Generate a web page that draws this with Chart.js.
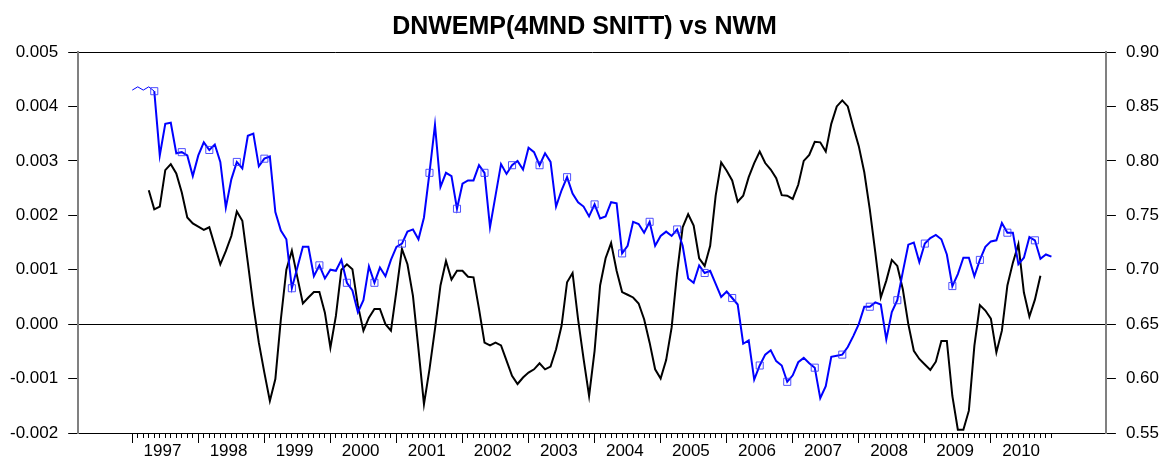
<!DOCTYPE html>
<html>
<head>
<meta charset="utf-8">
<script src="https://cdn.jsdelivr.net/npm/chart.js@4/dist/chart.umd.min.js"></script>
<style>
html,body{margin:0;padding:0;background:#fff;}
#wrap{width:1161px;height:459px;}
</style>
</head>
<body>
<div id="wrap"><canvas id="c" width="1161" height="459"></canvas></div>
<script>
const chartTitle = 'DNWEMP(4MND SNITT) vs NWM';
const years = ['1997','1998','1999','2000','2001','2002','2003','2004','2005','2006','2007','2008','2009','2010'];

// NWM (blue, right axis), monthly Jan 1997 .. Dec 2010
const nwm = [
0.865,0.868,0.865,0.868,0.864,0.805,0.834,0.835,0.807,0.808,0.805,0.786,
0.805,0.817,0.810,0.815,0.799,0.757,0.783,0.799,0.793,0.823,0.825,0.795,
0.802,0.804,0.753,0.736,0.728,0.683,0.702,0.721,0.721,0.694,0.704,0.692,
0.700,0.699,0.709,0.688,0.681,0.661,0.672,0.703,0.688,0.702,0.694,0.709,
0.721,0.724,0.735,0.737,0.728,0.748,0.789,0.833,0.776,0.789,0.786,0.756,
0.779,0.782,0.782,0.796,0.789,0.739,0.768,0.797,0.788,0.796,0.800,0.792,
0.812,0.808,0.796,0.807,0.799,0.758,0.773,0.785,0.770,0.762,0.758,0.749,
0.760,0.747,0.749,0.762,0.761,0.715,0.722,0.744,0.742,0.734,0.744,0.722,
0.731,0.735,0.731,0.737,0.722,0.692,0.688,0.704,0.697,0.699,0.687,0.675,
0.680,0.674,0.668,0.632,0.635,0.599,0.612,0.622,0.626,0.616,0.612,0.597,
0.603,0.615,0.619,0.614,0.610,0.582,0.593,0.620,0.621,0.622,0.629,0.639,
0.650,0.666,0.666,0.670,0.668,0.636,0.661,0.672,0.698,0.723,0.725,0.707,
0.724,0.729,0.732,0.728,0.714,0.685,0.696,0.711,0.711,0.694,0.709,0.721,
0.726,0.727,0.743,0.734,0.734,0.705,0.711,0.730,0.727,0.710,0.714,0.712
];

// DNWEMP (black, left axis), monthly Jan 1997 .. Dec 2010
const dnwemp = [
null,null,null,0.00246,0.00211,0.00216,0.00283,0.00294,0.00277,0.00242,0.00196,0.00185,
0.00179,0.00173,0.00178,0.00144,0.00110,0.00134,0.00162,0.00207,0.00190,0.00113,0.00034,-0.00034,
-0.00089,-0.00141,-0.00101,0.00009,0.00100,0.00135,0.00086,0.00038,0.00049,0.00059,0.00059,0.00021,
-0.00043,0.00015,0.00100,0.00110,0.00101,0.00034,-0.00012,0.00012,0.00028,0.00028,0.00000,-0.00012,
0.00061,0.00138,0.00110,0.00052,-0.00046,-0.00147,-0.00083,-0.00009,0.00071,0.00116,0.00082,0.00098,
0.00098,0.00087,0.00086,0.00028,-0.00034,-0.00039,-0.00034,-0.00039,-0.00067,-0.00095,-0.00110,-0.00098,
-0.00089,-0.00083,-0.00072,-0.00083,-0.00078,-0.00046,-0.00003,0.00077,0.00094,0.00009,-0.00064,-0.00132,
-0.00049,0.00071,0.00121,0.00149,0.00098,0.00059,0.00054,0.00049,0.00038,0.00009,-0.00034,-0.00083,
-0.00100,-0.00066,-0.00006,0.00095,0.00178,0.00202,0.00181,0.00121,0.00107,0.00144,0.00236,0.00297,
0.00282,0.00264,0.00225,0.00236,0.00270,0.00296,0.00317,0.00296,0.00284,0.00268,0.00237,0.00236,
0.00230,0.00256,0.00300,0.00311,0.00335,0.00334,0.00317,0.00368,0.00400,0.00411,0.00400,0.00362,
0.00327,0.00279,0.00211,0.00132,0.00049,0.00080,0.00118,0.00107,0.00064,0.00000,-0.00049,-0.00064,
-0.00074,-0.00084,-0.00069,-0.00031,-0.00031,-0.00132,-0.00194,-0.00194,-0.00159,-0.00040,0.00035,0.00025,
0.00010,-0.00052,-0.00012,0.00071,0.00113,0.00147,0.00058,0.00014,0.00045,0.00089,null,null
];

const leftTicks = [-0.002,-0.001,0,0.001,0.002,0.003,0.004,0.005];
const rightTicks = [0.55,0.60,0.65,0.70,0.75,0.80,0.85,0.90];

const FONT = '"Liberation Sans", Arial, Helvetica, sans-serif';
const toPoints = arr => arr.map((v, i) => ({x: i, y: v}));
const monthValues = nwm.map((_, i) => i);
const yearStartValues = years.map((_, k) => k * 12);
const xMin = -9.82, xMax = 176.9;

new Chart(document.getElementById('c').getContext('2d'), {
  type: 'line',
  data: {
    datasets: [
      {
        label: 'NWM',
        data: toPoints(nwm),
        xAxisID: 'x',
        yAxisID: 'y2',
        borderColor: '#0000ff',
        borderWidth: 2,
        tension: 0,
        pointStyle: 'rect',
        pointRadius: c => (c.dataIndex % 5 === 4 ? 5 : 0),
        pointBorderColor: 'rgba(50,50,255,0.85)',
        pointBackgroundColor: 'rgba(0,0,0,0)',
        pointBorderWidth: 1,
        segment: { borderWidth: c => (c.p0DataIndex < 4 ? 1 : 2) }
      },
      {
        label: 'DNWEMP',
        data: toPoints(dnwemp),
        xAxisID: 'x',
        yAxisID: 'y',
        borderColor: '#000000',
        borderWidth: 2,
        tension: 0,
        pointRadius: 0,
        spanGaps: false
      }
    ]
  },
  options: {
    responsive: false,
    animation: false,
    devicePixelRatio: 1,
    layout: { padding: { left: 0, right: -8, top: 0, bottom: -6 } },
    plugins: {
      legend: { display: false },
      tooltip: { enabled: false },
      title: {
        display: true,
        text: chartTitle,
        color: '#000',
        font: { family: FONT, size: 25, weight: 'bold' },
        padding: { top: 12, bottom: 10 }
      }
    },
    scales: {
      x: {
        type: 'linear',
        position: 'bottom',
        min: xMin,
        max: xMax,
        afterBuildTicks: s => { s.ticks = monthValues.map(v => ({ value: v })); },
        ticks: {
          autoSkip: false,
          maxRotation: 0,
          minRotation: 0,
          padding: 5,
          labelOffset: 2.75,
          color: '#000',
          font: { family: FONT, size: 17, lineHeight: 1 },
          callback: v => (v % 12 === 5 ? years[Math.floor(v / 12)] : '')
        },
        grid: { drawOnChartArea: false, tickLength: 5, color: '#000', lineWidth: 1 },
        border: { color: '#000', width: 1 }
      },
      xYear: {
        type: 'linear',
        position: { y: -0.002 },
        min: xMin,
        max: xMax,
        afterBuildTicks: s => { s.ticks = yearStartValues.map(v => ({ value: v })); },
        ticks: { display: false },
        grid: { drawOnChartArea: false, tickLength: 10, color: '#000', lineWidth: 1 },
        border: { display: false }
      },
      y: {
        type: 'linear',
        position: 'left',
        min: -0.002,
        max: 0.005,
        afterBuildTicks: s => { s.ticks = leftTicks.map(v => ({ value: v })); },
        ticks: {
          padding: 10,
          color: '#000',
          font: { family: FONT, size: 17, lineHeight: 1.2 },
          callback: v => v.toFixed(3)
        },
        grid: {
          tickLength: 10,
          tickColor: '#000',
          lineWidth: 1,
          color: c => (c.tick && (c.tick.value === 0 || c.tick.value === 0.005)) ? '#000' : 'rgba(0,0,0,0)'
        },
        border: { color: '#808080', width: 2 }
      },
      y2: {
        type: 'linear',
        position: 'right',
        min: 0.55,
        max: 0.90,
        afterBuildTicks: s => { s.ticks = rightTicks.map(v => ({ value: v })); },
        ticks: {
          padding: 10,
          color: '#000',
          font: { family: FONT, size: 17, lineHeight: 1.2 },
          callback: v => v.toFixed(2)
        },
        grid: { drawOnChartArea: false, tickLength: 10, tickColor: '#000', color: '#000', lineWidth: 1 },
        border: { color: '#808080', width: 2 }
      }
    }
  }
});
</script>
</body>
</html>
